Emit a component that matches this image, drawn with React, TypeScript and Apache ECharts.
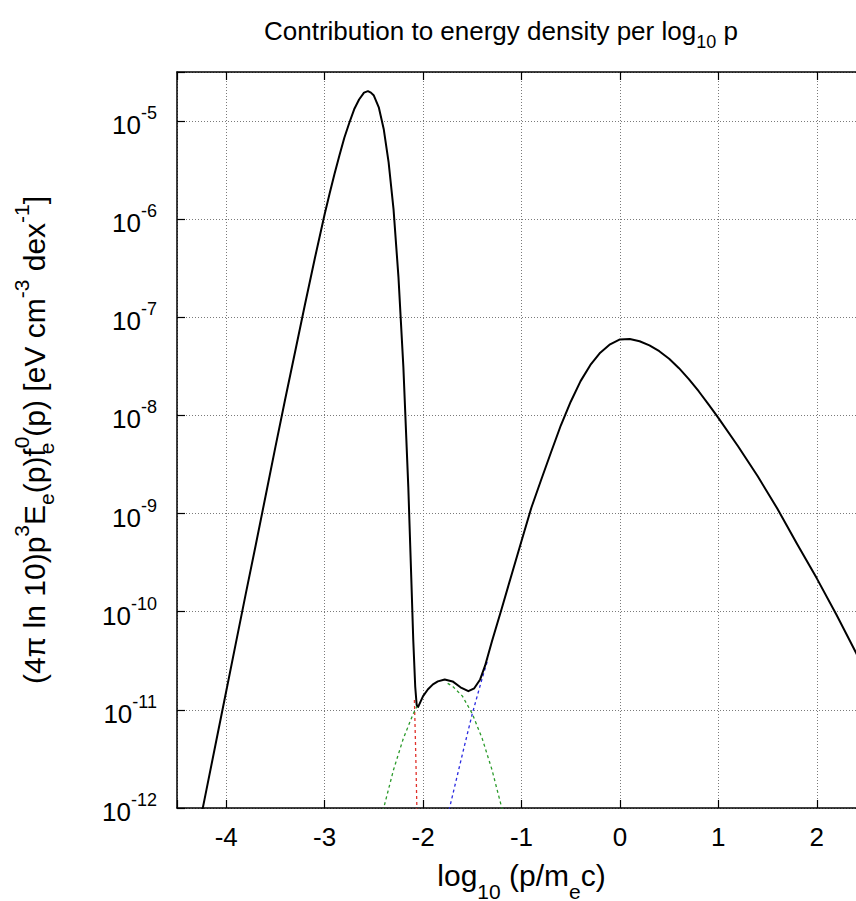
import React, { useEffect, useRef } from "react";
import * as echarts from "echarts";

const FONT = '"Liberation Sans", Arial, Helvetica, sans-serif';

// axis ranges: x in log10(p/mec), y in decades
const X_MIN = -4.5;
const X_MAX = 2.5;
const Y_MIN_EXP = -12;
const Y_MAX_EXP = -4.5;

// total spectrum [log10 p, log10 value]
const totalCurve: [number, number][] = [
  [-4.25, -12.06], [-4.2, -11.81], [-4.1, -11.31], [-4.0, -10.81], [-3.9, -10.31],
  [-3.8, -9.81], [-3.7, -9.32], [-3.6, -8.82], [-3.5, -8.32], [-3.4, -7.83],
  [-3.3, -7.35], [-3.2, -6.87], [-3.1, -6.4], [-3.0, -5.95], [-2.95, -5.74], [-2.9, -5.54],
  [-2.85, -5.35], [-2.8, -5.17], [-2.75, -5.02], [-2.7, -4.88], [-2.65, -4.78], [-2.6, -4.71],
  [-2.56, -4.695], [-2.53, -4.71],
  [-2.5, -4.74], [-2.45, -4.86], [-2.4, -5.08], [-2.35, -5.42], [-2.3, -5.9],
  [-2.25, -6.59], [-2.2, -7.51], [-2.15, -8.73], [-2.12, -9.65], [-2.1, -10.28],
  [-2.08, -10.76], [-2.065, -10.95], [-2.05, -10.97], [-2.0, -10.86], [-1.95, -10.79],
  [-1.9, -10.74], [-1.85, -10.71], [-1.78, -10.69], [-1.7, -10.71], [-1.62, -10.77],
  [-1.54, -10.81], [-1.48, -10.78], [-1.42, -10.69], [-1.37, -10.55], [-1.3, -10.3],
  [-1.2, -9.965], [-1.1, -9.62], [-1.0, -9.28], [-0.9, -8.94], [-0.8, -8.655],
  [-0.7, -8.375], [-0.6, -8.1], [-0.5, -7.86], [-0.4, -7.65], [-0.3, -7.485],
  [-0.2, -7.36], [-0.1, -7.275], [0.0, -7.225], [0.1, -7.221], [0.2, -7.244],
  [0.3, -7.286], [0.4, -7.345], [0.5, -7.422], [0.6, -7.518], [0.7, -7.63],
  [0.8, -7.753], [0.9, -7.886], [1.0, -8.024], [1.2, -8.314], [1.4, -8.62],
  [1.6, -8.95], [1.8, -9.31], [2.0, -9.66], [2.2, -10.03], [2.4, -10.42], [2.5, -10.63],
];

// Maxwellian tail (red dashed, visible part)
const redCurve: [number, number][] = [
  [-2.088, -10.9], [-2.078, -11.3], [-2.07, -11.65], [-2.062, -12.05],
];

// intermediate component (green dashed, visible parts)
const greenLeft: [number, number][] = [
  [-2.42, -12.09], [-2.4, -12.0], [-2.3, -11.61], [-2.2, -11.29], [-2.1, -11.04], [-2.055, -10.95],
];
const greenRight: [number, number][] = [
  [-1.75, -10.73], [-1.7, -10.76], [-1.6, -10.86], [-1.5, -11.04], [-1.4, -11.29],
  [-1.3, -11.61], [-1.2, -12.0], [-1.18, -12.09],
];

// non-thermal component (blue dashed, visible part)
const blueCurve: [number, number][] = [
  [-1.75, -12.08], [-1.7, -11.87], [-1.6, -11.45], [-1.5, -11.04], [-1.4, -10.68], [-1.34, -10.48],
];

const toPts = (c: [number, number][]) => c.map(([x, e]) => [x, Math.pow(10, e)]);

const t = (size: number, extra: any = {}) => ({
  fontFamily: FONT,
  fontSize: size,
  fontWeight: "normal",
  color: "#000",
  ...extra,
});

const titleRich = {
  bt: t(26, { lineHeight: 40, verticalAlign: "middle" }),
  sub: t(18, { verticalAlign: "bottom" }),
};
const xNameRich = {
  bt: t(30, { lineHeight: 40, verticalAlign: "top" }),
  sub: t(21, { verticalAlign: "bottom", height: 18 }),
};
const yNameRich = {
  bt: t(30, { lineHeight: 46, verticalAlign: "middle" }),
  sup: t(21, { verticalAlign: "top" }),
  sub: t(21, { verticalAlign: "bottom" }),
  subz: t(21, { verticalAlign: "bottom", width: 0 }),
};

export default function App() {
  const ref = useRef<HTMLDivElement>(null);
  useEffect(() => {
    const chart = echarts.init(ref.current!, null, { renderer: "svg" });
    const gridLine = { show: true, lineStyle: { color: "#7a7a7a", width: 1, type: [1, 2] as any } };
    const frame = { show: true, onZero: false, lineStyle: { color: "#000", width: 1.5 } };
    const tick = { show: true, inside: true, length: 8, lineStyle: { color: "#000", width: 1.2 } };
    const dashed = (color: string) => ({ color, width: 1.3, type: [3, 3] as any });

    chart.setOption({
      animation: false,
      backgroundColor: "#fff",
      title: {
        text: "{bt|Contribution to energy density per log}{sub|10}{bt| p}",
        left: 259,
        top: 6,
        textStyle: { fontWeight: "normal", rich: titleRich },
      },
      grid: {
        left: 177,
        top: 72,
        width: 689,
        height: 736,
        containLabel: false,
        outerBoundsMode: "none",
      },
      xAxis: [
        {
          type: "value",
          min: X_MIN,
          max: X_MAX,
          splitNumber: 7,
          position: "bottom",
          axisLine: frame,
          axisTick: tick,
          splitLine: gridLine,
          axisLabel: {
            margin: 16,
            fontFamily: FONT,
            fontSize: 26,
            color: "#000",
            formatter: (v: number) => (Number.isInteger(v) ? String(v) : ""),
          },
          name: "{bt|log}{sub|10}{bt| (p/m}{sub|e}{bt|c)}",
          nameLocation: "middle",
          nameGap: 52,
          nameTextStyle: { fontWeight: "normal", rich: xNameRich },
        },
        {
          type: "value",
          min: X_MIN,
          max: X_MAX,
          splitNumber: 7,
          position: "top",
          axisLine: frame,
          axisTick: tick,
          splitLine: { show: false },
          axisLabel: { show: false },
        },
      ],
      yAxis: {
        type: "log",
        min: Math.pow(10, Y_MIN_EXP),
        max: Math.pow(10, Y_MAX_EXP),
        axisLine: frame,
        axisTick: tick,
        splitLine: gridLine,
        minorTick: { show: false },
        axisLabel: {
          margin: 20,
          formatter: (v: number) => {
            const e = Math.log10(v);
            if (Math.abs(e - Math.round(e)) > 1e-6) return "";
            return `{b|10}{sup|${Math.round(e)}}`;
          },
          rich: {
            b: t(26, { lineHeight: 34, verticalAlign: "bottom" }),
            sup: t(18, { verticalAlign: "top" }),
          },
        },
        name:
          "{bt|(4π ln 10)p}{sup|3}{bt|E}{sub|e}{bt|(p)f}{subz|e}{sup|0}{bt|(p) [eV cm}{sup|-3}{bt| dex}{sup|-1}{bt|]}",
        nameLocation: "middle",
        nameRotate: 90,
        nameGap: 120,
        nameTextStyle: { fontWeight: "normal", rich: yNameRich },
      },
      series: [
        {
          type: "line",
          data: toPts(redCurve),
          showSymbol: false,
          lineStyle: dashed("#e0302a"),
          z: 2,
        },
        {
          type: "line",
          data: [...toPts(greenLeft), [null, null], ...toPts(greenRight)],
          showSymbol: false,
          connectNulls: false,
          lineStyle: dashed("#2a9a2a"),
          z: 2,
        },
        {
          type: "line",
          data: toPts(blueCurve),
          showSymbol: false,
          lineStyle: dashed("#2a2ae0"),
          z: 2,
        },
        {
          type: "line",
          data: toPts(totalCurve),
          showSymbol: false,
          lineStyle: { color: "#000", width: 2, join: "round" },
          z: 3,
        },
      ],
    });
    return () => chart.dispose();
  }, []);
  return (
    <div
      ref={ref}
      style={{ position: "absolute", left: 0, top: 0, width: 856, height: 901, background: "#fff" }}
    />
  );
}
